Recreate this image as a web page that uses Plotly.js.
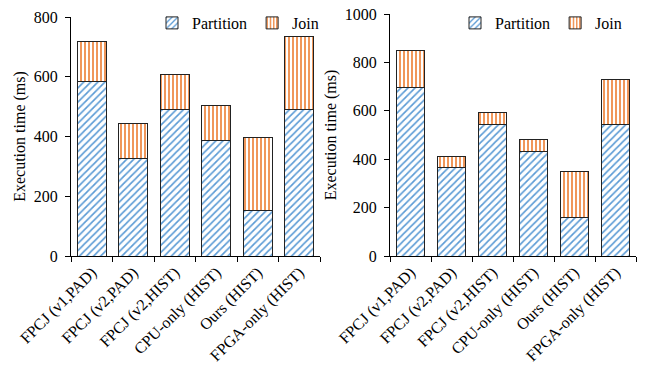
<!DOCTYPE html>
<html><head><meta charset="utf-8">
<script src="https://cdn.plot.ly/plotly-3.0.1.min.js"></script>
<style>html,body{margin:0;padding:0;background:#fff}#chart{width:646px;height:371px}</style>
</head><body><div id="chart"></div>
<script>
const categories = ["FPCJ (v1,PAD)", "FPCJ (v2,PAD)", "FPCJ (v2,HIST)", "CPU-only (HIST)", "Ours (HIST)", "FPGA-only (HIST)"];
const leftPartition = [583, 328, 490, 386, 152, 490];
const leftJoin = [134, 117, 118, 117, 243, 245];
const rightPartition = [698, 365, 545, 433, 160, 545];
const rightJoin = [150, 47, 47, 47, 188, 185];

const blue = "#5B9BD5", orange = "#ED7D31";
const font = {family: "Liberation Serif, Times New Roman, serif", size: 16, color: "#000"};
function partTrace(y, xa, ya, lg) {
  return {type: "bar", name: "Partition", x: categories, y: y, xaxis: xa, yaxis: ya, legend: lg,
    marker: {color: "white", line: {color: "#222", width: 1},
      pattern: {shape: "/", fgcolor: blue, bgcolor: "white", size: 5, solidity: 0.33}}};
}
function joinTrace(y, xa, ya, lg) {
  return {type: "bar", name: "Join", x: categories, y: y, xaxis: xa, yaxis: ya, legend: lg,
    marker: {color: "white", line: {color: "#222", width: 1},
      pattern: {shape: "|", fgcolor: orange, bgcolor: "white", size: 4, solidity: 0.4}}};
}
const data = [
  partTrace(leftPartition, "x", "y", "legend"),
  joinTrace(leftJoin, "x", "y", "legend"),
  partTrace(rightPartition, "x2", "y2", "legend2"),
  joinTrace(rightJoin, "x2", "y2", "legend2")
];
const xbase = {type: "category", showline: true, linecolor: "#000", linewidth: 1, ticks: "outside",
  tickson: "boundaries", ticklen: 5, tickcolor: "#000", tickangle: -45, tickfont: font,
  showgrid: false, automargin: false, zeroline: false};
const ybase = {showline: true, linecolor: "#000", linewidth: 1, ticks: "outside", ticklen: 5,
  tickcolor: "#000", tickfont: font, showgrid: false, zeroline: false, automargin: false,
  ticklabelstandoff: 4,
  title: {text: "Execution time (ms)", font: font, standoff: 4}};
const legbase = {orientation: "h", font: font, bgcolor: "rgba(0,0,0,0)", yanchor: "middle",
  itemwidth: 30, tracegroupgap: 0, traceorder: "normal"};
const layout = {
  width: 646, height: 371, margin: {l: 0, r: 0, t: 0, b: 0},
  paper_bgcolor: "white", plot_bgcolor: "white", barmode: "stack", bargap: 0.3,
  font: font,
  xaxis: Object.assign({}, xbase, {domain: [71/646, 320/646], anchor: "y"}),
  yaxis: Object.assign({}, ybase, {domain: [1-256/371, 1-17/371], range: [0, 800], dtick: 200, anchor: "x"}),
  xaxis2: Object.assign({}, xbase, {domain: [390/646, 636/646], anchor: "y2"}),
  yaxis2: Object.assign({}, ybase, {domain: [1-256/371, 1-14/371], range: [0, 1000], dtick: 200, anchor: "x2"}),
  legend: Object.assign({}, legbase, {x: 152/646, y: 1-23/371}),
  legend2: Object.assign({}, legbase, {x: 455/646, y: 1-23/371}),
  showlegend: true
};
Plotly.newPlot("chart", data, layout, {staticPlot: true});
</script></body></html>
